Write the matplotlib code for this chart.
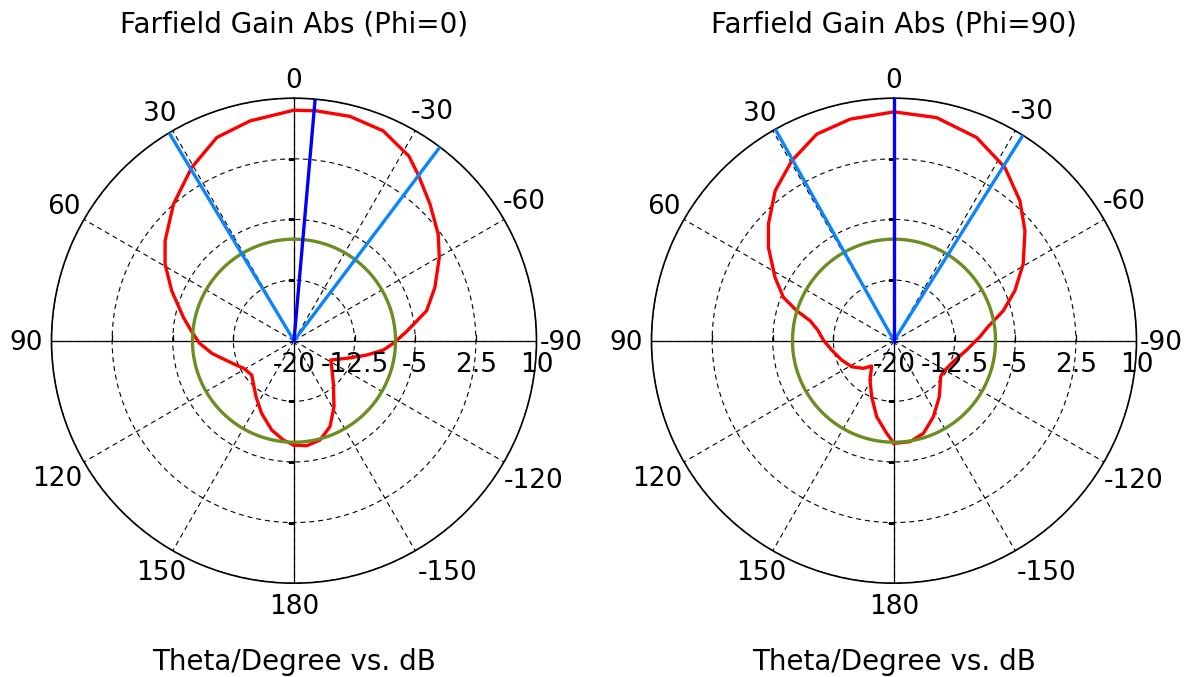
import numpy as np
import matplotlib
matplotlib.use("Agg")
import matplotlib.pyplot as plt
from matplotlib.transforms import offset_copy

# --- data (theta in deg, gain in dB) ---
theta_phi0 = [-180, -173.1, -165.3, -157.3, -148.8, -137.3, -124.6, -117.8, -108.5,
              -101.2, -96, -91.5, -85.4, -77.3, -69.3, -60.2, -53.5, -44.9, -37, -31.9,
              -23, -14, -5.6, 0, 11.3, 20.8, 30.6, 41.4, 52.2, 59.3, 67.8, 78.1, 85,
              91.5, 98.9, 108.2, 119.5, 129, 136.4, 145.8, 156, 166, 173.9, 180]
gain_phi0 = [-7.09, -6.91, -7.3, -8.47, -10.45, -12.82, -14.34, -14.87, -13.13,
             -10.84, -8.89, -7.71, -6.05, -3.19, -1.37, 0.71, 2.19, 3.84, 5.6, 6.9,
             8.21, 8.6, 8.57, 8.52, 7.73, 6.89, 4.88, 2.54, 0.18, -1.45, -3.66, -6.02, -7.3,
             -8.3, -9.75, -11.6, -12.95, -13.26, -12.71, -11.63, -10.16, -8.61, -7.64, -7.09]

theta_phi90 = [-180, -171, -162.4, -152.6, -141, -127.6, -122.1, -109.5, -97.3, -87.3,
               -81.8, -74.7, -67.5, -59.3, -50, -42, -32.6, -22.1, -10.8, 0, 11.2, 20.5,
               29.6, 38.4, 47.1, 53.4, 62, 68.6, 72.9, 76.6, 82.2, 89.5, 98.5, 110.3,
               121.6, 132, 138.6, 148.6, 158.3, 167.2, 175.5, 180]
gain_phi90 = [-7.3, -7.35, -7.97, -9.41, -11.09, -12.71, -12.79, -12.21, -10.94, -9.35,
              -8.3, -5.99, -3.81, -1.41, 1.15, 3.28, 5.45, 7.14, 8.1, 8.31, 7.94, 7.28,
              5.6, 3.67, 1.2, -0.65, -3.33, -5.31, -7.41, -9.33, -10.5, -11.26, -12.2, -13.1,
              -13.85, -14.89, -15.82, -14.3, -12.54, -10.35, -8.5, -7.3]

main_dir = [-5, 0]                        # main lobe direction
hpbw_lines = [(31, -37), (29.3, -32.1)]   # 3 dB angular width limits
sidelobe_level = [-7.44, -7.44]
titles = ["Farfield Gain Abs (Phi=0)", "Farfield Gain Abs (Phi=90)"]

r_ticks = [-20, -12.5, -5, 2.5, 10]
r_labels = ["-20", "-12.5", "-5", "2.5", "10"]
theta_ticks = list(range(0, 360, 30))
theta_labels = [str(a if a <= 180 else a - 360) for a in theta_ticks]
# pixel nudges for the angle labels (same order as theta_ticks)
label_nudge = [(0, 4), (4, 4), (-3, -1), (-9, 0), (-2, -4), (14, -9),
               (0, -11), (2, -9), (0, -6), (3, 0), (-1, 4), (-5, 6)]

W, H = 1196, 677
fig = plt.figure(figsize=(W / 100, H / 100), dpi=100)

centers = [(294, 340.7), (894, 340.7)]
R = 242.5

for i, (cx, cy) in enumerate(centers):
    ax = fig.add_axes([(cx - R) / W, (H - cy - R) / H, 2 * R / W, 2 * R / H], projection="polar")
    ax.set_theta_zero_location("N")
    ax.set_theta_direction(1)
    ax.set_ylim(r_ticks[0], r_ticks[-1])
    ax.set_yticks(r_ticks)
    ax.set_yticklabels([])
    ax.set_thetagrids(theta_ticks, [""] * len(theta_ticks))
    ax.grid(True, color="k", lw=0.8, ls=(0, (4.5, 3.5)))
    ax.spines["polar"].set_linewidth(1.2)
    ax.spines["polar"].set_color("k")

    # solid main axes
    for a in [0, 90, 180, 270]:
        ax.plot([np.radians(a)] * 2, [r_ticks[0], r_ticks[-1]], color="k", lw=0.9, zorder=2)
    # small ticks on the axes
    for a, m in [(0, 0), (180, 0), (90, 2), (270, 2)]:
        ax.plot([np.radians(a)] * 3, r_ticks[1:4], ls="none", marker=m, ms=4, mew=0.9, color="k", zorder=2)

    th, g = (theta_phi0, gain_phi0) if i == 0 else (theta_phi90, gain_phi90)
    ax.plot(np.radians(th), g, color="#ff0000", lw=2.4, zorder=3, solid_joinstyle="round")

    tt = np.linspace(0, 2 * np.pi, 361)
    ax.plot(tt, np.full_like(tt, sidelobe_level[i]), color="#6b8e23", lw=2.4, zorder=4)

    for a in hpbw_lines[i]:
        ax.plot([np.radians(a)] * 2, [r_ticks[0], r_ticks[-1]], color="#0a84ff", lw=2.4, zorder=5)
    ax.plot([np.radians(main_dir[i])] * 2, [r_ticks[0], r_ticks[-1]], color="#0000ff", lw=2.4, zorder=6)

    # angle labels sitting just outside the rim
    for a, s, (nx, ny) in zip(theta_ticks, theta_labels, label_nudge):
        sx = -np.sin(np.radians(a))
        sy = np.cos(np.radians(a))
        ha = "center" if abs(sx) < 0.01 else ("left" if sx > 0 else "right")
        if abs(sy) < 0.01:
            va, ny = "baseline", -9.6
        else:
            va = "bottom" if sy > 0 else "top"
        tr = offset_copy(ax.transData, fig=fig, x=nx, y=ny, units="dots")
        ax.text(np.radians(a), r_ticks[-1], s, ha=ha, va=va, fontsize=19, transform=tr, clip_on=False)

    # radial labels under the horizontal axis
    trans = offset_copy(ax.transData, fig=fig, x=0, y=-11, units="dots")
    for r, s in zip(r_ticks, r_labels):
        ax.text(np.radians(-90), r, s, ha="center", va="top", fontsize=19, transform=trans, zorder=7)

    fig.text(cx / W, 1 - 32 / H, titles[i], ha="center", va="baseline", fontsize=20)
    fig.text(cx / W, 1 - 670 / H, "Theta/Degree vs. dB", ha="center", va="baseline", fontsize=20)

fig.savefig("out.png", dpi=100)
